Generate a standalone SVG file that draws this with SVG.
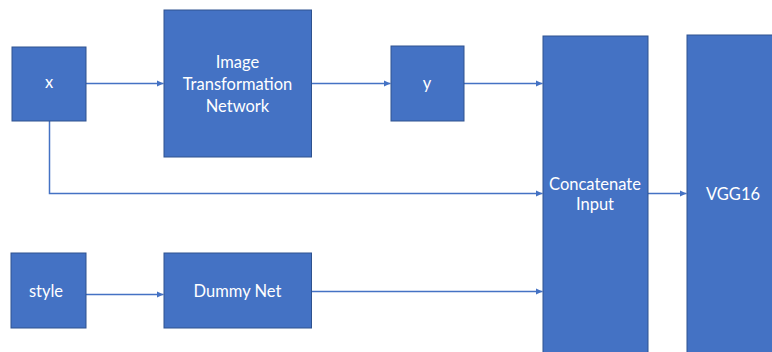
<svg xmlns="http://www.w3.org/2000/svg" width="772" height="352" viewBox="0 0 772 352">
  <style>
    .box { fill: #4472C4; stroke: #2F528F; stroke-width: 1; }
    .lbl { fill: #FFFFFF; font-family: Lato, "Open Sans", "Liberation Sans", sans-serif; font-size: 16.5px; text-anchor: middle; }
    .conn { fill: none; stroke: #4472C4; stroke-width: 1.5; }
  </style>
  <defs>
    <marker id="arrow" markerUnits="userSpaceOnUse" markerWidth="8" markerHeight="8" viewBox="0 0 8 8" refX="7" refY="4" orient="auto">
      <path d="M0,0.8 L7,4 L0,7.2 Z" fill="#4472C4"/>
    </marker>
  </defs>
  <rect width="772" height="352" fill="#FFFFFF"/>
  <g id="connectors">
    <path class="conn" d="M86,83.5 H163.5" marker-end="url(#arrow)"/>
    <path class="conn" d="M311.5,83.5 H390.5" marker-end="url(#arrow)"/>
    <path class="conn" d="M464,83.5 H542.5" marker-end="url(#arrow)"/>
    <path class="conn" d="M49.5,121 V193.5 H542.5" marker-end="url(#arrow)"/>
    <path class="conn" d="M86,294.5 H163.5" marker-end="url(#arrow)"/>
    <path class="conn" d="M311.5,291.5 H542.5" marker-end="url(#arrow)"/>
    <path class="conn" d="M648,193.5 H686.5" marker-end="url(#arrow)"/>
  </g>
  <g id="node-x">
    <rect class="box" x="12" y="47" width="74" height="74"/>
    <text class="lbl" x="49" y="88">x</text>
  </g>
  <g id="node-itn">
    <rect class="box" x="164" y="10" width="147.5" height="147"/>
    <text class="lbl" x="237.5" y="67.5">Image</text>
    <text class="lbl" x="237.5" y="89.5">Transformation</text>
    <text class="lbl" x="237.5" y="111.5">Network</text>
  </g>
  <g id="node-y">
    <rect class="box" x="391" y="46" width="73" height="75"/>
    <text class="lbl" x="427" y="89">y</text>
  </g>
  <g id="node-style">
    <rect class="box" x="11" y="253" width="75" height="75"/>
    <text class="lbl" x="46" y="297">style</text>
  </g>
  <g id="node-dummy">
    <rect class="box" x="164" y="253" width="147.5" height="75"/>
    <text class="lbl" x="237.5" y="297">Dummy Net</text>
  </g>
  <g id="node-concat">
    <rect class="box" x="543" y="36" width="105" height="330"/>
    <text class="lbl" x="595" y="190">Concatenate</text>
    <text class="lbl" x="595" y="209.5">Input</text>
  </g>
  <g id="node-vgg">
    <rect class="box" x="687" y="35" width="100" height="330"/>
    <text class="lbl" x="733" y="200">VGG16</text>
  </g>
</svg>
